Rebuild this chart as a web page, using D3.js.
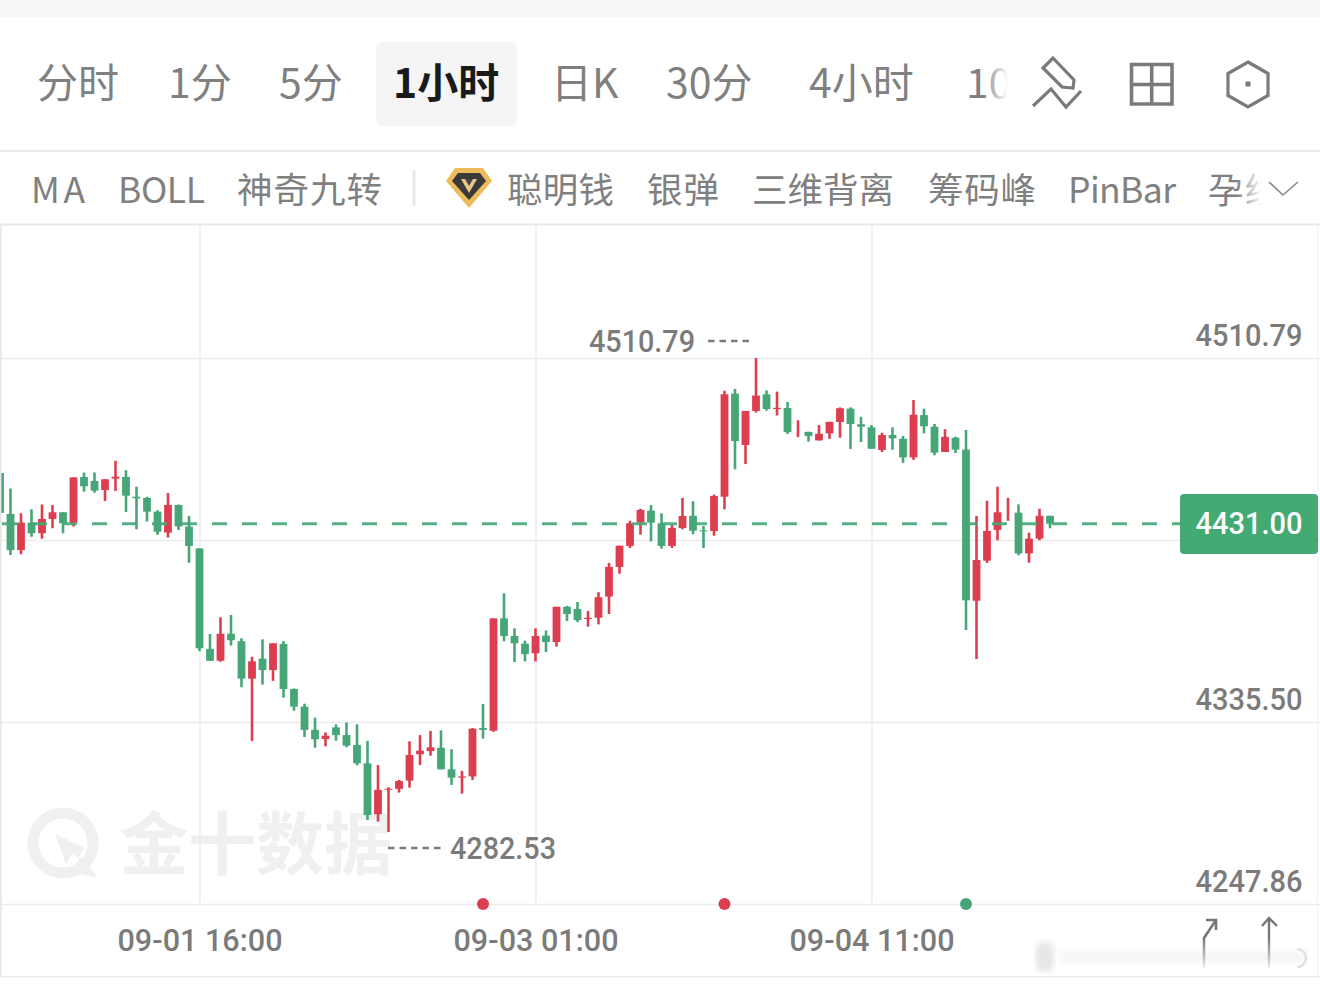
<!DOCTYPE html>
<html><head><meta charset="utf-8">
<script src="https://cdnjs.cloudflare.com/ajax/libs/d3/7.8.5/d3.min.js"></script>
<style>html,body{margin:0;padding:0;background:#fff;overflow:hidden}svg{display:block}</style>
</head><body><svg id="c" width="1320" height="991"></svg>
<script>
const opens=[4455.4,4435.7,4418.3,4431.5,4426.4,4433.3,4436.5,4431.2,4453.5,4451.6,4447.2,4452.7,4453.5,4444.0,4443.4,4436.8,4426.7,4440.0,4429.6,4419.1,
4370.7,4365.0,4378.0,4374.4,4356.4,4366.0,4360.5,4373.1,4351.4,4342.9,4331.7,4327.3,4332.9,4329.2,4324.4,4315.6,4291.1,4302.9,4303.3,4307.3,
4320.0,4321.5,4323.1,4312.7,4308.7,4309.3,4332.6,4331.3,4385.4,4376.9,4373.2,4368.6,4377.1,4374.0,4391.0,4389.9,4385.1,4385.7,4395.9,4410.2,
4420.3,4431.5,4437.3,4431.2,4420.3,4428.9,4434.8,4427.8,4427.5,4444.0,4493.6,4468.9,4485.3,4493.3,4486.2,4486.7,4472.7,4475.2,4471.1,4474.5,
4480.0,4486.4,4478.9,4477.4,4466.5,4473.7,4471.9,4462.9,4483.3,4477.7,4465.5,4472.4,4466.7,4393.9,4413.2,4428.0,4436.6,4436.3,4416.7,4423.8,4434.8];
const closes=[4436.2,4418.3,4431.5,4426.4,4433.3,4436.5,4431.2,4453.3,4449.0,4446.9,4452.4,4453.6,4444.5,4443.2,4436.8,4427.1,4440.0,4429.7,4420.3,4371.0,
4365.0,4378.0,4374.9,4356.4,4364.7,4360.5,4373.4,4351.4,4342.9,4331.7,4327.2,4328.9,4329.2,4324.1,4315.6,4290.7,4302.8,4303.4,4307.1,4319.6,
4321.7,4323.3,4312.7,4308.7,4309.3,4332.3,4331.7,4385.4,4376.9,4373.4,4368.2,4376.9,4374.0,4391.0,4387.5,4384.6,4385.7,4395.6,4410.2,4420.4,
4431.2,4437.6,4431.5,4420.3,4428.9,4434.7,4427.6,4427.3,4444.3,4493.3,4470.8,4485.3,4492.7,4486.2,4486.8,4475.1,4472.7,4473.2,4474.3,4480.0,
4486.6,4479.0,4477.7,4467.1,4473.7,4472.1,4462.9,4483.5,4477.9,4465.2,4472.8,4466.7,4394.1,4413.5,4427.5,4436.5,4436.6,4416.7,4423.8,4434.8,4431.0];
const highs=[4455.4,4448.0,4436.0,4437.9,4440.3,4440.0,4436.5,4453.3,4455.7,4455.7,4452.4,4461.3,4456.7,4448.8,4444.0,4437.5,4445.8,4440.3,4434.7,4419.1,
4377.9,4385.9,4387.0,4375.8,4366.9,4375.3,4373.4,4374.5,4351.7,4344.3,4337.6,4330.5,4334.4,4335.3,4334.4,4326.4,4314.8,4304.1,4307.6,4326.2,
4329.2,4331.2,4331.5,4322.4,4312.0,4332.6,4344.2,4385.4,4397.5,4380.6,4374.7,4380.6,4379.6,4391.0,4391.4,4393.3,4389.0,4398.0,4412.1,4420.4,
4432.4,4438.2,4440.0,4436.0,4430.4,4443.4,4441.8,4429.9,4445.0,4495.0,4495.9,4485.3,4510.79,4495.2,4494.6,4489.6,4480.8,4475.3,4478.5,4480.1,
4487.0,4487.0,4482.5,4478.5,4474.8,4477.4,4473.2,4490.6,4486.4,4479.0,4476.5,4472.9,4476.1,4434.7,4442.1,4448.8,4443.4,4440.3,4426.7,4438.2,4434.8];
const lows=[4436.2,4415.9,4416.3,4424.7,4423.8,4428.8,4426.4,4429.6,4446.4,4445.9,4441.9,4446.7,4436.6,4428.3,4432.0,4425.7,4424.4,4428.0,4412.2,4369.6,
4365.0,4364.5,4372.3,4352.2,4326.4,4353.5,4355.3,4347.2,4340.9,4328.3,4323.1,4323.8,4326.5,4323.3,4314.6,4288.3,4287.5,4282.53,4301.5,4303.9,
4314.8,4319.3,4312.7,4305.2,4301.0,4307.6,4327.5,4330.8,4374.4,4364.4,4364.7,4364.7,4369.2,4371.8,4384.1,4383.6,4381.4,4382.5,4387.5,4406.9,
4419.3,4425.7,4422.5,4419.0,4419.3,4428.3,4425.9,4419.3,4425.2,4437.9,4457.2,4459.7,4484.5,4485.4,4483.1,4474.2,4472.7,4470.5,4471.1,4471.8,
4472.4,4467.0,4470.3,4467.1,4465.5,4466.6,4460.3,4461.7,4474.5,4463.9,4465.5,4465.0,4379.8,4365.8,4412.1,4423.0,4432.4,4415.8,4412.2,4423.0,4428.8];
const gridPrices=[4510.79,4423.14,4335.50,4247.86];
const priceLabels=[4510.79,4335.50,4247.86];
const timeIdx=[19,51,83];
const timeLabels=["09-01 16:00","09-03 01:00","09-04 11:00"];
const markerIdx=[46,69,92];
const markerKind=["up","up","down"];
const lastPrice=4431.00, maxPrice=4510.79, minPrice=4282.53;
const tabs=["分时","1分","5分","1小时","日K","30分","4小时","10"];
const tabX=[37,168,279,393,551,666,809,966];
const tools=["MA","BOLL","神奇九转","聪明钱","银弹","三维背离","筹码峰","PinBar","孕线"];
const toolX=[31,118,237,507,647,752,928,1068,1208];
const toolW=[54,87,145,107,72,142,108,108,72];

const UP="#dc3e50", DOWN="#46a678", GRID="#ececec", TXT="#808080";
const CJK="'Noto Sans CJK SC','Noto Sans',sans-serif", NUM="Roboto,sans-serif";
const svg=d3.select("#c");
const defs=svg.append("defs");
const y=d3.scaleLinear().domain([4247.86,4510.79]).range([904,358]);
const x=d3.scaleLinear().domain([0,100]).range([0,1050]);
const fade=(id,x1,x2)=>{const g=defs.append("linearGradient").attr("id",id).attr("gradientUnits","userSpaceOnUse").attr("x1",x1).attr("x2",x2).attr("y1",0).attr("y2",0);
 g.append("stop").attr("offset",0).attr("stop-color","#fff").attr("stop-opacity",0);
 g.append("stop").attr("offset",1).attr("stop-color","#fff").attr("stop-opacity",1);};
fade("f1",982,1008);fade("f2",1236,1262);
const vf=defs.append("linearGradient").attr("id","vf").attr("gradientUnits","userSpaceOnUse").attr("x1",0).attr("x2",0).attr("y1",915).attr("y2",972);
vf.append("stop").attr("offset",.4).attr("stop-color","#777");vf.append("stop").attr("offset",1).attr("stop-color","#777").attr("stop-opacity",0);
defs.append("filter").attr("id","blur").append("feGaussianBlur").attr("stdDeviation",3);
defs.append("clipPath").attr("id","plot").append("rect").attr("x",1.5).attr("y",225).attr("width",1318).attr("height",679);

// page chrome
svg.append("rect").attr("width",1320).attr("height",991).attr("fill","#fff");
svg.append("rect").attr("width",1320).attr("height",17).attr("fill","#f6f6f6");
svg.append("rect").attr("x",376).attr("y",42).attr("width",141).attr("height",84).attr("rx",6).attr("fill","#f5f5f5");
svg.append("g").selectAll("text").data(tabs).join("text").attr("x",(d,i)=>tabX[i]).attr("y",98).text(d=>d)
 .attr("font-family",CJK).attr("font-size",41).attr("fill",d=>d==="1小时"?"#1a1a1a":TXT).attr("font-weight",d=>d==="1小时"?700:400);
svg.append("rect").attr("x",982).attr("y",50).attr("width",46).attr("height",70).attr("fill","url(#f1)");
// toolbar icons
const ic=svg.append("g").attr("fill","none").attr("stroke","#7a7a7a").attr("stroke-width",3.2);
ic.append("path").attr("d","M1053 58L1074 80L1073 88L1062 87L1043 68Z");
ic.append("path").attr("d","M1033 106L1051 89L1066 107L1081 91");
ic.append("path").attr("stroke-width",3.6).attr("d","M1131.5 64.5H1172V104H1131.5ZM1151.7 64.5V104M1131.5 84.5H1172");
ic.append("path").attr("d","M1248 62L1268 73.5V95.5L1248 107L1228 95.5V73.5Z");
svg.append("rect").attr("x",1245.5).attr("y",81.5).attr("width",5).attr("height",5).attr("fill","#7a7a7a");
svg.append("rect").attr("y",150).attr("width",1320).attr("height",2).attr("fill","#e9e9e9");
// indicator row
svg.append("g").selectAll("text").data(tools).join("text").attr("x",(d,i)=>toolX[i]).attr("y",203).text(d=>d)
 .attr("font-family",CJK).attr("font-size",35.5).attr("fill",TXT).attr("textLength",(d,i)=>toolW[i]);
svg.append("rect").attr("x",1236).attr("y",165).attr("width",62).attr("height",50).attr("fill","url(#f2)");
svg.append("rect").attr("x",412.5).attr("y",170).attr("width",3).attr("height",36).attr("fill","#e8e8e8");
svg.append("path").attr("d","M1269 182L1283 195L1298 182").attr("fill","none").attr("stroke","#888").attr("stroke-width",1.6);
svg.append("path").attr("d","M455 168H483L492 181L469 208L446 181Z").attr("fill","#eebb5c");
svg.append("path").attr("d","M458 173H480L486 181L469 200L452 181Z").attr("fill","#3a3a3a");
svg.append("path").attr("d","M461 179H477L469 193Z").attr("fill","#e9c98a");
svg.append("path").attr("d","M465 179H473L469 186Z").attr("fill","#444");
svg.append("rect").attr("y",223.5).attr("width",1320).attr("height",2).attr("fill","#e8e8e8");

// watermark
const wm=svg.append("g");
wm.append("circle").attr("cx",63).attr("cy",843).attr("r",30).attr("fill","none").attr("stroke","#f0f0f0").attr("stroke-width",11);
wm.append("path").attr("d","M55 834L85 848L78 858L72 854L66 864Z").attr("fill","#f0f0f0");
wm.append("path").attr("d","M80 856L98 878L80 874L76 866Z").attr("fill","#f0f0f0");
wm.append("text").attr("x",120).attr("y",869).text("金十数据").attr("font-family",CJK).attr("font-size",68).attr("font-weight",700).attr("fill","#f0f0f0");

// grid through axes
const gy=svg.append("g").attr("transform","translate(1320,0)")
 .call(d3.axisLeft(y).tickValues(gridPrices).tickSize(1320).tickFormat(""));
const gx=svg.append("g").attr("transform","translate(0,904)")
 .call(d3.axisTop(x).tickValues(timeIdx).tickSize(679).tickFormat(""));
[gy,gx].forEach(g=>{g.select(".domain").remove();g.selectAll("line").attr("stroke",GRID).attr("stroke-width",1.4);});
svg.append("rect").attr("y",225).attr("width",1.5).attr("height",751).attr("fill","#e6e6e6");
svg.append("rect").attr("x",1317).attr("y",225).attr("width",1).attr("height",751).attr("fill","#f2f2f2");
svg.append("rect").attr("y",976).attr("width",1320).attr("height",1.4).attr("fill",GRID);

// candles
const plot=svg.append("g").attr("clip-path","url(#plot)");
const idx=d3.range(opens.length);
const col=i=>closes[i]>=opens[i]?UP:DOWN;
plot.append("g").selectAll("line").data(idx).join("line")
 .attr("x1",x).attr("x2",x).attr("y1",i=>y(highs[i])).attr("y2",i=>y(lows[i]))
 .attr("stroke",col).attr("stroke-width",2.6);
plot.append("g").selectAll("rect").data(idx).join("rect")
 .attr("x",i=>x(i)-3.9).attr("width",7.8)
 .attr("y",i=>y(Math.max(opens[i],closes[i]))).attr("height",i=>Math.abs(y(opens[i])-y(closes[i])))
 .attr("fill",col);

// last price line
svg.append("line").attr("x1",2).attr("x2",1180).attr("y1",y(lastPrice)).attr("y2",y(lastPrice))
 .attr("stroke","#46a678").attr("stroke-opacity",.9).attr("stroke-width",3).attr("stroke-dasharray","15 15");
svg.append("rect").attr("x",1180).attr("y",494).attr("width",138).attr("height",60).attr("rx",4).attr("fill","#44aa74");
const num=(s,cx,cy,w,fill)=>svg.append("text").attr("x",cx).attr("y",cy+10.5).attr("text-anchor","middle").text(s)
 .attr("font-family",NUM).attr("font-weight",500).attr("font-size",32).attr("fill",fill)
 .attr("textLength",w).attr("lengthAdjust","spacingAndGlyphs");
num(lastPrice.toFixed(2),1249,523,107,"#fff");
priceLabels.forEach(p=>num(p.toFixed(2),1249,y(p)-23,107,"#7b7b7b"));
timeLabels.forEach((t,i)=>num(t,x(timeIdx[i])+0.5,940,165,"#7b7b7b"));
// extreme labels
const exDash=(x1,x2,p)=>svg.append("line").attr("x1",x1).attr("x2",x2).attr("y1",p).attr("y2",p).attr("stroke","#7b7b7b").attr("stroke-width",2.4).attr("stroke-dasharray","6.5 5");
num(maxPrice.toFixed(2),642,341,106,"#7b7b7b"); exDash(708,752,341);
num(minPrice.toFixed(2),503,848,106,"#7b7b7b"); exDash(388,444,848);
// markers
svg.append("g").selectAll("circle").data(markerIdx).join("circle")
 .attr("cx",x).attr("cy",904).attr("r",6).attr("fill",(d,i)=>markerKind[i]==="up"?UP:DOWN);

// blurred gesture area
const gs=svg.append("g");
gs.append("rect").attr("x",1036).attr("y",942).attr("width",18).attr("height",30).attr("rx",7).attr("fill","#e6e6e6").attr("filter","url(#blur)");
gs.append("rect").attr("x",1060).attr("y",951).attr("width",245).attr("height",12).attr("fill","#f6f6f6").attr("filter","url(#blur)");
gs.append("path").attr("d","M1297 949A9 9 0 0 1 1297 967").attr("fill","none").attr("stroke","#e2e2e2").attr("stroke-width",2.5);
gs.append("path").attr("d","M1204 968V938L1216 920M1206 920H1216V930").attr("fill","none").attr("stroke","url(#vf)").attr("stroke-width",2.6);
gs.append("path").attr("d","M1269 968V918.5M1262 926L1269 918L1277 926").attr("fill","none").attr("stroke","url(#vf)").attr("stroke-width",2.4);
</script></body></html>
